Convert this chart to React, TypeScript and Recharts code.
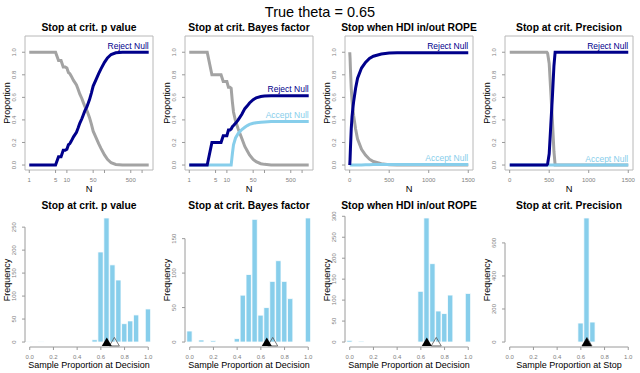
import React from "react";
import {
  LineChart,
  Line,
  ComposedChart,
  Bar,
  XAxis,
  YAxis,
  ReferenceArea,
  ReferenceDot,
  ReferenceLine,
  Label,
} from "recharts";

const FONT = "'Liberation Sans', Arial, Helvetica, sans-serif";
const GREY_LINE = "#a3a3a3";
const NAVY = "#00008b";
const SKY = "#87ceeb";
const AXIS = "#9a9a9a";
const BOX = "#b8b8b8";
const TICK_TXT = "#808080";

const TRUE_THETA = 0.65;

const topTitles = [
  "Stop at crit. p value",
  "Stop at crit. Bayes factor",
  "Stop when HDI in/out ROPE",
  "Stop at crit. Precision",
];
const bottomXTitles = [
  "Sample Proportion at Decision",
  "Sample Proportion at Decision",
  "Sample Proportion at Decision",
  "Sample Proportion at Stop",
];

// top row: proportion of runs by sample size N
const pN = [1, 2, 3, 4, 5, 6, 7, 8, 9, 10, 11, 12, 13, 15, 18, 20, 22, 25, 27, 30, 34, 40, 45, 50, 60, 70, 80, 100, 120, 150, 200, 300, 500, 1000, 1500];
const pReject = [0, 0, 0, 0, 0, 0.074, 0.074, 0.13, 0.13, 0.14, 0.18, 0.19, 0.21, 0.25, 0.29, 0.33, 0.37, 0.41, 0.44, 0.48, 0.515, 0.58, 0.64, 0.7, 0.76, 0.81, 0.85, 0.91, 0.95, 0.98, 0.995, 1, 1, 1, 1];
const pUndecided = [1, 1, 1, 1, 1, 0.926, 0.926, 0.87, 0.87, 0.86, 0.82, 0.81, 0.79, 0.75, 0.71, 0.67, 0.63, 0.59, 0.56, 0.52, 0.485, 0.42, 0.36, 0.3, 0.24, 0.19, 0.15, 0.09, 0.05, 0.02, 0.005, 0, 0, 0, 0];

const bfN = [1, 2, 3, 4, 5, 6, 7, 8, 9, 10, 11, 12, 13, 14, 15, 17, 20, 25, 30, 35, 40, 50, 60, 80, 100, 150, 200, 500, 1000, 1500];
const bfReject = [0, 0, 0, 0.2, 0.2, 0.2, 0.2, 0.26, 0.26, 0.26, 0.31, 0.31, 0.32, 0.34, 0.35, 0.37, 0.4, 0.45, 0.5, 0.525, 0.55, 0.58, 0.595, 0.608, 0.612, 0.615, 0.615, 0.615, 0.615, 0.615];
const bfAccept = [0, 0, 0, 0, 0, 0, 0, 0, 0, 0, 0, 0, 0, 0.1, 0.18, 0.24, 0.28, 0.315, 0.335, 0.35, 0.36, 0.37, 0.375, 0.38, 0.382, 0.385, 0.385, 0.385, 0.385, 0.385];
const bfUndecided = [1, 1, 1, 0.8, 0.8, 0.8, 0.8, 0.74, 0.74, 0.74, 0.69, 0.69, 0.68, 0.56, 0.47, 0.39, 0.32, 0.235, 0.165, 0.125, 0.09, 0.05, 0.03, 0.012, 0.006, 0, 0, 0, 0, 0];

const hdiN = [1, 5, 10, 20, 30, 40, 50, 75, 100, 150, 200, 250, 300, 400, 500, 600, 1000, 1500];
const hdiReject = [0, 0.05, 0.15, 0.32, 0.43, 0.5, 0.56, 0.68, 0.77, 0.86, 0.91, 0.945, 0.965, 0.985, 0.993, 0.996, 0.996, 0.996];
const hdiAccept = [0, 0, 0, 0, 0, 0, 0, 0, 0, 0.001, 0.002, 0.003, 0.004, 0.004, 0.004, 0.004, 0.004, 0.004];
const hdiUndecided = [1, 0.95, 0.85, 0.68, 0.57, 0.5, 0.44, 0.32, 0.23, 0.139, 0.088, 0.052, 0.031, 0.011, 0.003, 0, 0, 0];

const precN = [1, 100, 200, 300, 400, 470, 480, 500, 520, 540, 560, 575, 600, 800, 1000, 1500];
const precReject = [0, 0, 0, 0, 0, 0, 0.01, 0.1, 0.35, 0.6, 0.88, 1, 1, 1, 1, 1];
const precAccept = [0, 0, 0, 0, 0, 0, 0, 0, 0, 0, 0, 0, 0, 0, 0, 0];
const precUndecided = [1, 1, 1, 1, 1, 1, 0.99, 0.9, 0.65, 0.4, 0.12, 0, 0, 0, 0, 0];

const logTicks = [1, 5, 10, 50, 100, 500, 1000];
const logTickLabels = ["1", "5", "10", "50", "", "500", ""];
const linTicks = [0, 500, 1000, 1500];
const propTicks = [0, 0.2, 0.4, 0.6, 0.8, 1];

// bottom row: histograms of sample proportion at decision
const bins = [0, 0.05, 0.1, 0.15, 0.2, 0.25, 0.3, 0.35, 0.4, 0.45, 0.5, 0.55, 0.6, 0.65, 0.7, 0.75, 0.8, 0.85, 0.9, 0.95, 1];
const pCounts = [1, 0, 1, 0, 0, 0, 0, 0, 0, 0, 0, 5, 196, 270, 168, 135, 40, 46, 59, 0, 72];
const bfCounts = [16, 0, 3, 0, 2, 0, 0, 0, 5, 68, 98, 178, 39, 50, 88, 118, 88, 63, 0, 0, 180];
const hdiCounts = [4, 0, 2, 0, 0, 0, 0, 0, 0, 0, 0, 0, 121, 296, 187, 74, 68, 112, 0, 0, 116];
const precCounts = [0, 0, 0, 0, 0, 0, 0, 0, 0, 0, 0, 0, 115, 751, 121, 0, 0, 0, 0, 0, 0];

const pFreqTicks = [0, 50, 100, 150, 200, 250];
const bfFreqTicks = [0, 50, 100, 150];
const hdiFreqTicks = [0, 50, 100, 150, 200, 250, 300];
const precFreqTicks = [0, 200, 400, 600];

const pMean = 0.714;
const bfMean = 0.7;
const hdiMean = 0.73;
const precMean = 0.652;

const PANEL_W = 160;
const PLOT_W = 128;
const MARGIN = { left: 5, right: 7 };

function XTick(props: any) {
  const { x, y, payload, fmt } = props;
  return (
    <text x={x} y={y + 7} textAnchor="middle" fontSize={6} fill={TICK_TXT} fontFamily={FONT}>
      {fmt(payload.value)}
    </text>
  );
}

function YTick(props: any) {
  const { x, y, payload, fmt } = props;
  const bx = x - 3.5;
  return (
    <text x={bx} y={y} transform={`rotate(-90 ${bx} ${y})`} textAnchor="middle" fontSize={6} fill={TICK_TXT} fontFamily={FONT}>
      {fmt(payload.value)}
    </text>
  );
}

const xTitle = (text: string, dy: number, size: number) => (props: any) => {
  const vb = props.viewBox;
  return (
    <text x={vb.x + vb.width / 2} y={vb.y + dy} textAnchor="middle" fontSize={size} fill="#000" fontFamily={FONT}>
      {text}
    </text>
  );
};

const yTitle = (text: string) => (props: any) => {
  const vb = props.viewBox;
  const x = vb.x + 4.8;
  const y = vb.y + vb.height / 2;
  return (
    <text x={x} y={y} transform={`rotate(-90 ${x} ${y})`} textAnchor="middle" fontSize={9} fill="#000" fontFamily={FONT}>
      {text}
    </text>
  );
};

const note = (text: string, color: string) => (p: any) => (
  <text x={p.cx} y={p.cy - 3.2} textAnchor="end" fontSize={8.5} fill={color} fontFamily={FONT}>
    {text}
  </text>
);

const filledTri = (p: any) => (
  <polygon points={`${p.cx},${p.cy - 4.6} ${p.cx - 5},${p.cy + 3.9} ${p.cx + 5},${p.cy + 3.9}`} fill="#000" />
);
const openTri = (p: any) => (
  <polygon points={`${p.cx},${p.cy - 4.6} ${p.cx - 5},${p.cy + 3.9} ${p.cx + 5},${p.cy + 3.9}`} fill="none" stroke="#555" strokeWidth={0.8} />
);

interface TopProps {
  col: number;
  n: number[];
  undecided: number[];
  reject: number[];
  accept?: number[];
  log?: boolean;
}

function TopPanel({ col, n, undecided, reject, accept, log }: TopProps) {
  const xDomain = log ? [0.77, 1950] : [-59, 1560];
  const yDomain = [-0.044, 1.144];
  const rows = (vals: number[]) => n.map((v, i) => ({ n: v, p: vals[i] }));
  const last = n.length - 1;
  const xFmt = (v: number) => (log ? logTickLabels[logTicks.indexOf(v)] : String(v));
  const lineProps = { dataKey: "p", strokeWidth: 3, dot: false, activeDot: false, isAnimationActive: false };

  return (
    <div style={{ position: "absolute", left: col * PANEL_W, top: 20 }}>
      <LineChart width={PANEL_W} height={180} margin={{ top: 16, right: MARGIN.right, bottom: 0, left: MARGIN.left }}>
        <XAxis
          type="number"
          dataKey="n"
          scale={log ? "log" : "linear"}
          domain={xDomain}
          allowDataOverflow
          ticks={log ? logTicks : linTicks}
          interval={0}
          height={30}
          axisLine={false}
          tickSize={3}
          tickLine={{ stroke: AXIS }}
          tick={(p: any) => <XTick {...p} fmt={xFmt} />}
          label={<Label content={xTitle("N", 21.5, 9.3)} />}
        />
        <YAxis
          type="number"
          domain={yDomain}
          allowDataOverflow
          ticks={propTicks}
          interval={0}
          width={20}
          axisLine={false}
          tickSize={3}
          tickLine={{ stroke: AXIS }}
          tick={(p: any) => <YTick {...p} fmt={(v: number) => v.toFixed(1)} />}
          label={<Label content={yTitle("Proportion")} />}
        />
        <ReferenceArea x1={xDomain[0]} x2={xDomain[1]} y1={yDomain[0]} y2={yDomain[1]} fill="none" stroke={BOX} ifOverflow="visible" />
        <Line data={rows(undecided)} stroke={GREY_LINE} {...lineProps} />
        {accept && <Line data={rows(accept)} stroke={SKY} {...lineProps} />}
        <Line data={rows(reject)} stroke={NAVY} {...lineProps} />
        <ReferenceDot x={n[last]} y={reject[last]} shape={note("Reject Null", NAVY)} ifOverflow="visible" />
        {accept && <ReferenceDot x={n[last]} y={accept[last]} shape={note("Accept Null", SKY)} ifOverflow="visible" />}
      </LineChart>
    </div>
  );
}

interface BottomProps {
  col: number;
  counts: number[];
  yTicks: number[];
  xLabel: string;
  mean: number;
}

function BottomPanel({ col, counts, yTicks, xLabel, mean }: BottomProps) {
  const max = Math.max(...counts);
  const yDomain = [-0.04 * max, 1.04 * max];
  const xDomain = [-0.04, 1.04];
  const data = bins.map((b, i) => ({ x: b, count: counts[i] }));
  const barW = (PLOT_W * 0.05) / (xDomain[1] - xDomain[0]);

  return (
    <div style={{ position: "absolute", left: col * PANEL_W, top: 195 }}>
      <ComposedChart width={PANEL_W} height={178} data={data} margin={{ top: 18, right: MARGIN.right, bottom: 0, left: MARGIN.left }}>
        <XAxis
          type="number"
          dataKey="x"
          domain={xDomain}
          allowDataOverflow
          ticks={propTicks}
          interval={0}
          height={26}
          axisLine={false}
          tickSize={3}
          tickLine={{ stroke: AXIS }}
          tick={(p: any) => <XTick {...p} fmt={(v: number) => v.toFixed(1)} />}
          label={<Label content={xTitle(xLabel, 20.5, 9)} />}
        />
        <YAxis
          type="number"
          domain={yDomain}
          allowDataOverflow
          ticks={yTicks}
          interval={0}
          width={20}
          axisLine={false}
          tickSize={3}
          tickLine={{ stroke: AXIS }}
          tick={(p: any) => <YTick {...p} fmt={(v: number) => String(v)} />}
          label={<Label content={yTitle("Frequency")} />}
        />
        <ReferenceLine
          segment={[{ x: xDomain[0], y: 0 }, { x: xDomain[0], y: yTicks[yTicks.length - 1] }]}
          stroke={AXIS}
          ifOverflow="visible"
        />
        <ReferenceLine
          segment={[{ x: 0, y: yDomain[0] }, { x: 1, y: yDomain[0] }]}
          stroke={AXIS}
          ifOverflow="visible"
        />
        <Bar dataKey="count" fill={SKY} stroke="#ffffff" strokeWidth={0.8} barSize={barW} isAnimationActive={false} />
        <ReferenceDot x={mean} y={0} shape={openTri} ifOverflow="visible" />
        <ReferenceDot x={TRUE_THETA} y={0} shape={filledTri} ifOverflow="visible" />
      </ComposedChart>
    </div>
  );
}

export default function App() {
  return (
    <div
      style={{
        position: "absolute",
        left: 0,
        top: 0,
        width: 640,
        height: 373,
        background: "#fff",
        fontFamily: FONT,
        overflow: "hidden",
      }}
    >
      <svg width={640} height={373} style={{ position: "absolute", left: 0, top: 0 }}>
        <text x={320} y={17} textAnchor="middle" fontSize={14.5} fill="#000" fontFamily={FONT}>
          True theta = 0.65
        </text>
        {topTitles.map((t, i) => (
          <text key={"t" + i} x={i * PANEL_W + 89} y={31} textAnchor="middle" fontSize={10.3} fontWeight="bold" fill="#000" fontFamily={FONT}>
            {t}
          </text>
        ))}
        {topTitles.map((t, i) => (
          <text key={"b" + i} x={i * PANEL_W + 89} y={209} textAnchor="middle" fontSize={10.3} fontWeight="bold" fill="#000" fontFamily={FONT}>
            {t}
          </text>
        ))}
      </svg>

      <TopPanel col={0} n={pN} undecided={pUndecided} reject={pReject} log />
      <TopPanel col={1} n={bfN} undecided={bfUndecided} reject={bfReject} accept={bfAccept} log />
      <TopPanel col={2} n={hdiN} undecided={hdiUndecided} reject={hdiReject} accept={hdiAccept} />
      <TopPanel col={3} n={precN} undecided={precUndecided} reject={precReject} accept={precAccept} />

      <BottomPanel col={0} counts={pCounts} yTicks={pFreqTicks} xLabel={bottomXTitles[0]} mean={pMean} />
      <BottomPanel col={1} counts={bfCounts} yTicks={bfFreqTicks} xLabel={bottomXTitles[1]} mean={bfMean} />
      <BottomPanel col={2} counts={hdiCounts} yTicks={hdiFreqTicks} xLabel={bottomXTitles[2]} mean={hdiMean} />
      <BottomPanel col={3} counts={precCounts} yTicks={precFreqTicks} xLabel={bottomXTitles[3]} mean={precMean} />
    </div>
  );
}
